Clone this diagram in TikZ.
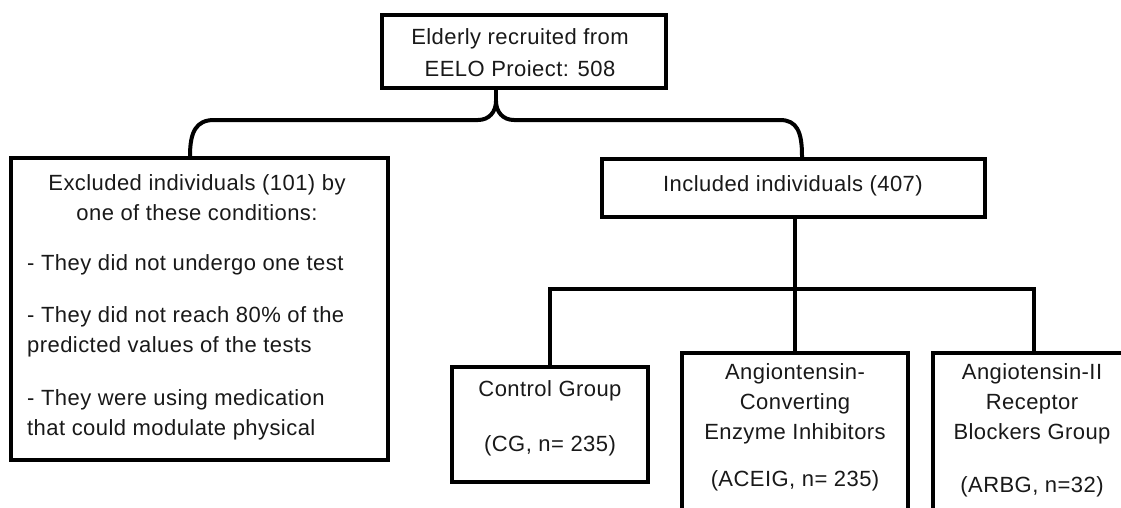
\documentclass[tikz,border=0pt]{standalone}
\usepackage{fontspec}
\setmainfont{Liberation Sans}[LetterSpace=2.0]
\begin{document}
\begin{tikzpicture}[x=1pt,y=-1pt,
  box/.style={draw=black, line width=4.5pt, inner sep=0pt, fill=white},
  conn/.style={draw=black, line width=4pt},
  txt/.style={font=\fontsize{22}{30}\selectfont, inner sep=0pt, align=center, text=black!90},
  ltxt/.style={font=\fontsize{22}{30}\selectfont, inner sep=0pt, align=left, anchor=west, text=black!90}]
\useasboundingbox (0,0) rectangle (1121,507);
\clip (0,0) rectangle (1121,507);
\fill[white] (0,0) rectangle (1121,507);

% boxes
\node[box, minimum width=284pt, minimum height=73pt] (top) at (524,51.5) {};
\node[box, minimum width=377pt, minimum height=302pt] (excl) at (199.5,309) {};
\node[box, minimum width=383pt, minimum height=58pt] (incl) at (793.5,188) {};
\node[box, minimum width=196pt, minimum height=115pt] (cg) at (550,424.5) {};
\node[box, minimum width=226pt, minimum height=207pt] (ace) at (795,456.5) {};
\node[box, minimum width=198pt, minimum height=207pt] (arb) at (1032,456.5) {};

% texts
\node[txt] (ttop) at (520,53) {Elderly recruited from\\[2pt]EELO Proiect: 508};
\node[txt] (texh) at (197,198) {Excluded individuals (101) by\\one of these conditions:};
\node[ltxt] (tex1) at (27,265) {- They did not undergo one test};
\node[ltxt] (tex2) at (27,332) {- They did not reach 80\% of the\\predicted values of the tests};
\node[ltxt] (tex3) at (27,415) {- They were using medication\\that could modulate physical};
\node[txt] (tinc) at (793,186) {Included individuals (407)};
\node[txt, anchor=north] (tcg) at (550,380) {Control Group\\[25pt](CG, n= 235)};
\node[txt, anchor=north] (tace) at (795,363) {Angiontensin-\\Converting\\Enzyme Inhibitors\\[17pt](ACEIG, n= 235)};
\node[txt, anchor=north] (tarb) at (1032,363) {Angiotensin-II\\Receptor\\Blockers Group\\[23pt](ARBG, n=32)};

% brace
\coordinate (bc) at (496,101);
\coordinate (bL) at (190,156);
\coordinate (bR) at (802,156);
\draw[conn] (top.south -| bc) -- (bc);
\draw[conn, line join=round] (bL) .. controls (190,132) and (196,120) .. (214,120) -- (478,120)
  .. controls (489,120) and (496,112) .. (bc)
  .. controls (496,112) and (503,120) .. (514,120) -- (780,120)
  .. controls (797,120) and (802,132) .. (bR) -- (bR |- incl.north);

% included -> groups
\coordinate (h) at (0,289);
\draw[conn] (incl.south -| ace.north) -- (ace.north);
\draw[conn] (cg.north) -- (cg.north |- h) -- (h -| 1034,0) -- (arb.north -| 1034,0);
\end{tikzpicture}
\end{document}
